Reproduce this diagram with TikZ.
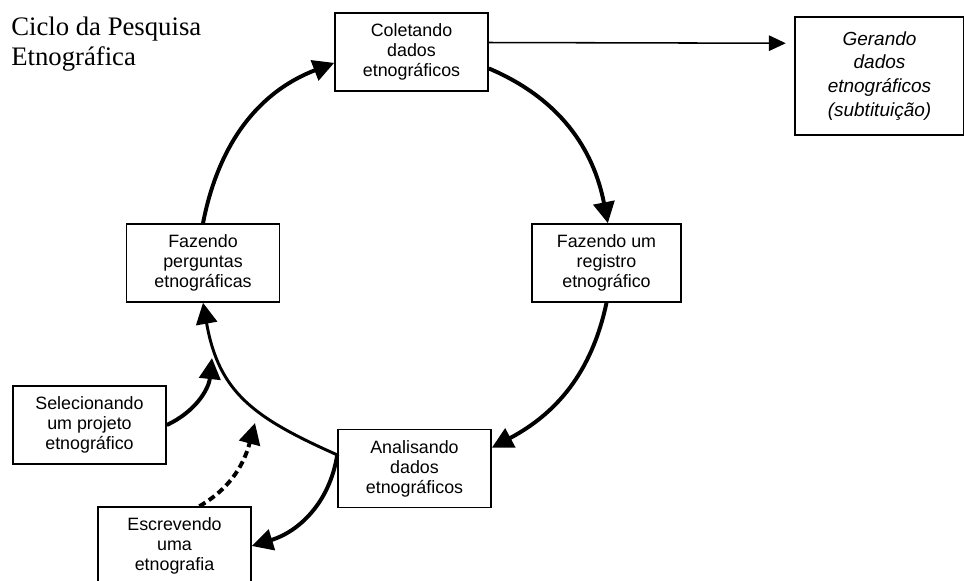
\documentclass[tikz,border=0pt]{standalone}
\usepackage{fontspec}
\setmainfont{Liberation Serif}
\setsansfont{Liberation Sans}
\usetikzlibrary{arrows.meta}

\begin{document}
\begin{tikzpicture}
[x=0.025cm, y=0.025cm, font=\sffamily\fontsize{12.7}{14.2}\selectfont]

\tikzstyle{etapa}=[rectangle, draw, line width=1.1pt, minimum width=3.825cm, minimum height=1.95cm, inner sep=1pt, align=center]
\tikzstyle{passo}=[line width=2.8pt, -{Triangle[length=15pt, width=15pt]}]
\tikzstyle{fino}=[line width=1.1pt, -{Triangle[length=12pt, width=11pt]}]

\useasboundingbox (0,0) rectangle (964,-580);

\node[anchor=north west, inner sep=0pt, align=left, font=\rmfamily\fontsize{19}{21.3}\selectfont]	(Tit)	at (11,-17)	{Ciclo da Pesquisa\\Etnográfica};

\node[etapa]	(Col)	at (411.5,-52)	{Coletando\\dados\\etnográficos};
\node[etapa, font=\sffamily\itshape\fontsize{13.5}{17}\selectfont, minimum width=4.225cm, minimum height=2.95cm]	(Ger)	at (879.5,-76)	{Gerando\\dados\\etnográficos\\(subtituição)};
\node[etapa, minimum width=3.725cm]	(Reg)	at (606.5,-263)	{Fazendo um\\registro\\etnográfico};
\node[etapa]	(Per)	at (203,-263)	{Fazendo\\perguntas\\etnográficas};
\node[etapa]	(Ana)	at (414.5,-468.5)	{Analisando\\dados\\etnográficos};
\node[etapa]	(Sel)	at (89.5,-425)	{Selecionando\\um projeto\\etnográfico};
\node[etapa]	(Esc)	at (174.5,-546)	{Escrevendo\\uma\\etnografia};

\coordinate	(SelTip)	at (212,-358);
\coordinate	(EscTip)	at (255,-423);

\draw [passo] (Per.north) to[out=79, in=201] (Col.188);
\draw [passo] (Col.-12) to[out=-23, in=101] (Reg.88);
\draw [passo] (Reg.south) to[out=-102, in=28] (Ana.15);
\draw [passo, line width=2.1pt] (Ana.170) to[out=156, in=-80, looseness=1.15] (Per.south);
\draw [passo] (Ana.170) to[out=-99, in=17] (Esc.east);
\draw [passo] (Sel.east) to[out=25, in=-96] (SelTip);
\draw [passo, dash pattern=on 5pt off 3pt] (Esc.58) to[out=30, in=-105] (EscTip);
\draw [fino, shorten >=6pt] (Col.7) -- (Ger.159);
\end{tikzpicture}
\end{document}
